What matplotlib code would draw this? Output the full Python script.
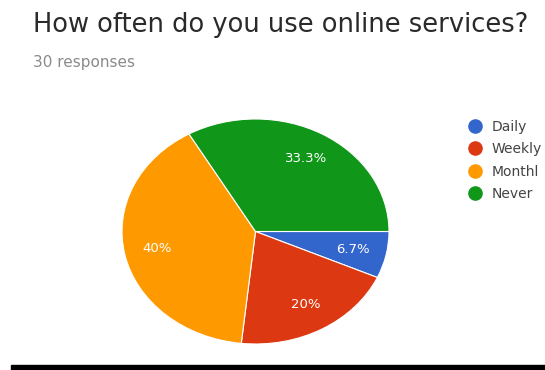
import matplotlib.pyplot as plt
from matplotlib.lines import Line2D

# screenshot is stretched sideways, so a wide face fits the text best
plt.rcParams['font.family'] = ['DejaVu Sans']

# data (the screenshot cuts the third legend entry to "Monthl")
categories = ['Daily', 'Weekly', 'Monthl', 'Never']
shares = [6.7, 20, 40, 33.3]
colors = ['#3366cc', '#dc3912', '#ff9900', '#109618']
title = 'How often do you use online services?'
subtitle = '30 responses'


def pct_label(p):
    txt = '%.1f' % p
    if txt.endswith('.0'):
        txt = txt[:-2]
    return txt + '%'


W, H = 545, 370
fig = plt.figure(figsize=(W / 100, H / 100), dpi=100)
fig.patch.set_facecolor('white')

# pie is drawn as an ellipse (stretched screenshot)
left, right, top, bottom = 122, 389, 119, 344
ax = fig.add_axes([left / W, 1 - bottom / H, (right - left) / W, (bottom - top) / H])
wedges, texts, autotexts = ax.pie(
    shares, colors=colors, startangle=0, counterclock=False,
    autopct=pct_label, pctdistance=0.75,
    wedgeprops=dict(edgecolor='white', linewidth=0.8),
    textprops=dict(color='white', fontsize=9.5))
ax.set_aspect('auto')
ax.set_xlim(-1, 1)
ax.set_ylim(-1, 1)
ax.axis('off')

fig.text(33 / W, 1 - 32 / H, title, fontsize=18.5, color='#2a2a2a',
         ha='left', va='baseline')
fig.text(33 / W, 1 - 67 / H, subtitle, fontsize=11, color='#8a8a8a',
         ha='left', va='baseline')

handles = [Line2D([], [], marker='o', linestyle='none', markersize=9.5,
                  markerfacecolor=c, markeredgecolor=c) for c in colors]
leg = fig.legend(handles, categories, loc='upper left',
                 bbox_to_anchor=(468 / W, 1 - 119.5 / H), frameon=False,
                 fontsize=10, handlelength=1.0, handletextpad=0.7,
                 labelspacing=0.62, borderpad=0, borderaxespad=0)
for t in leg.get_texts():
    t.set_color('#444444')

# black rule along the bottom of the screenshot
fig.add_artist(plt.Rectangle((11 / W, 0), 1 - 11 / W, 5 / H,
                             transform=fig.transFigure, color='black'))

fig.savefig('out.png', dpi=100)
